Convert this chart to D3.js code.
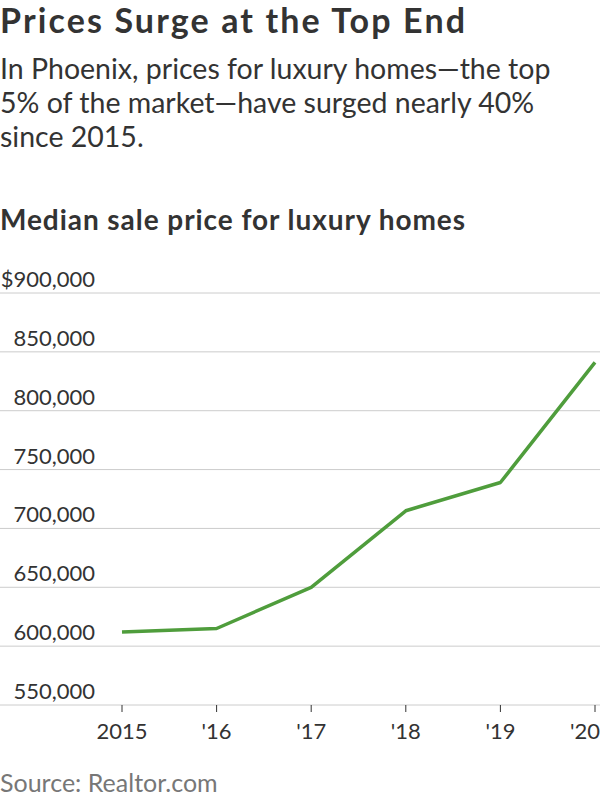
<!DOCTYPE html><html><head><meta charset="utf-8">
<script src="https://cdn.jsdelivr.net/npm/d3@7"></script>
<style>body{margin:0;background:#fff}text{font-family:Lato,"Noto Sans",sans-serif}</style></head><body>
<svg id="c" width="600" height="800"></svg>
<script>
const years=["2015","'16","'17","'18","'19","'20"];
const prices=[612000,615000,650000,715000,739000,841000];
const yTicks=[550000,600000,650000,700000,750000,800000,850000,900000];
const svg=d3.select("#c");
svg.append("text").attr("x",0).attr("y",33).attr("font-size",34).attr("font-weight",700).attr("fill","#333").attr("textLength",465).text("Prices Surge at the Top End");
["In Phoenix, prices for luxury homes—the top","5% of the market—have surged nearly 40%","since 2015."].forEach((t,i)=>svg.append("text").attr("x",0).attr("y",79+i*34).attr("font-size",28.5).attr("fill","#333").text(t));
svg.append("text").attr("x",0).attr("y",230).attr("font-size",28).attr("font-weight",700).attr("fill","#333").attr("textLength",465).text("Median sale price for luxury homes");
const x=d3.scalePoint().domain(years).range([122,595]);
const y=d3.scaleLinear().domain([550000,900000]).range([705,293]);
yTicks.forEach(v=>{
 svg.append("line").attr("x1",0).attr("x2",600).attr("y1",y(v)).attr("y2",y(v)).attr("stroke","#ccc").attr("stroke-width",1);
 svg.append("text").attr("x",95).attr("y",y(v)-6).attr("text-anchor","end").attr("font-size",22).attr("fill","#333").text(v===900000?"$900,000":d3.format(",")(v));
});
years.forEach(t=>{
 svg.append("line").attr("x1",x(t)).attr("x2",x(t)).attr("y1",705).attr("y2",712).attr("stroke","#333");
 svg.append("text").attr("x",x(t)).attr("y",739).attr("text-anchor",t==="'20"?"end":"middle").attr("dx",t==="'20"?5:0).attr("font-size",22).attr("fill","#333").text(t);
});
svg.append("path").datum(prices).attr("fill","none").attr("stroke","#4f9d3c").attr("stroke-width",3.5).attr("stroke-linejoin","round")
 .attr("d",d3.line().x((d,i)=>x(years[i])).y(d=>y(d)));
svg.append("text").attr("x",0).attr("y",792).attr("font-size",25).attr("fill","#777").text("Source: Realtor.com");
</script></body></html>
